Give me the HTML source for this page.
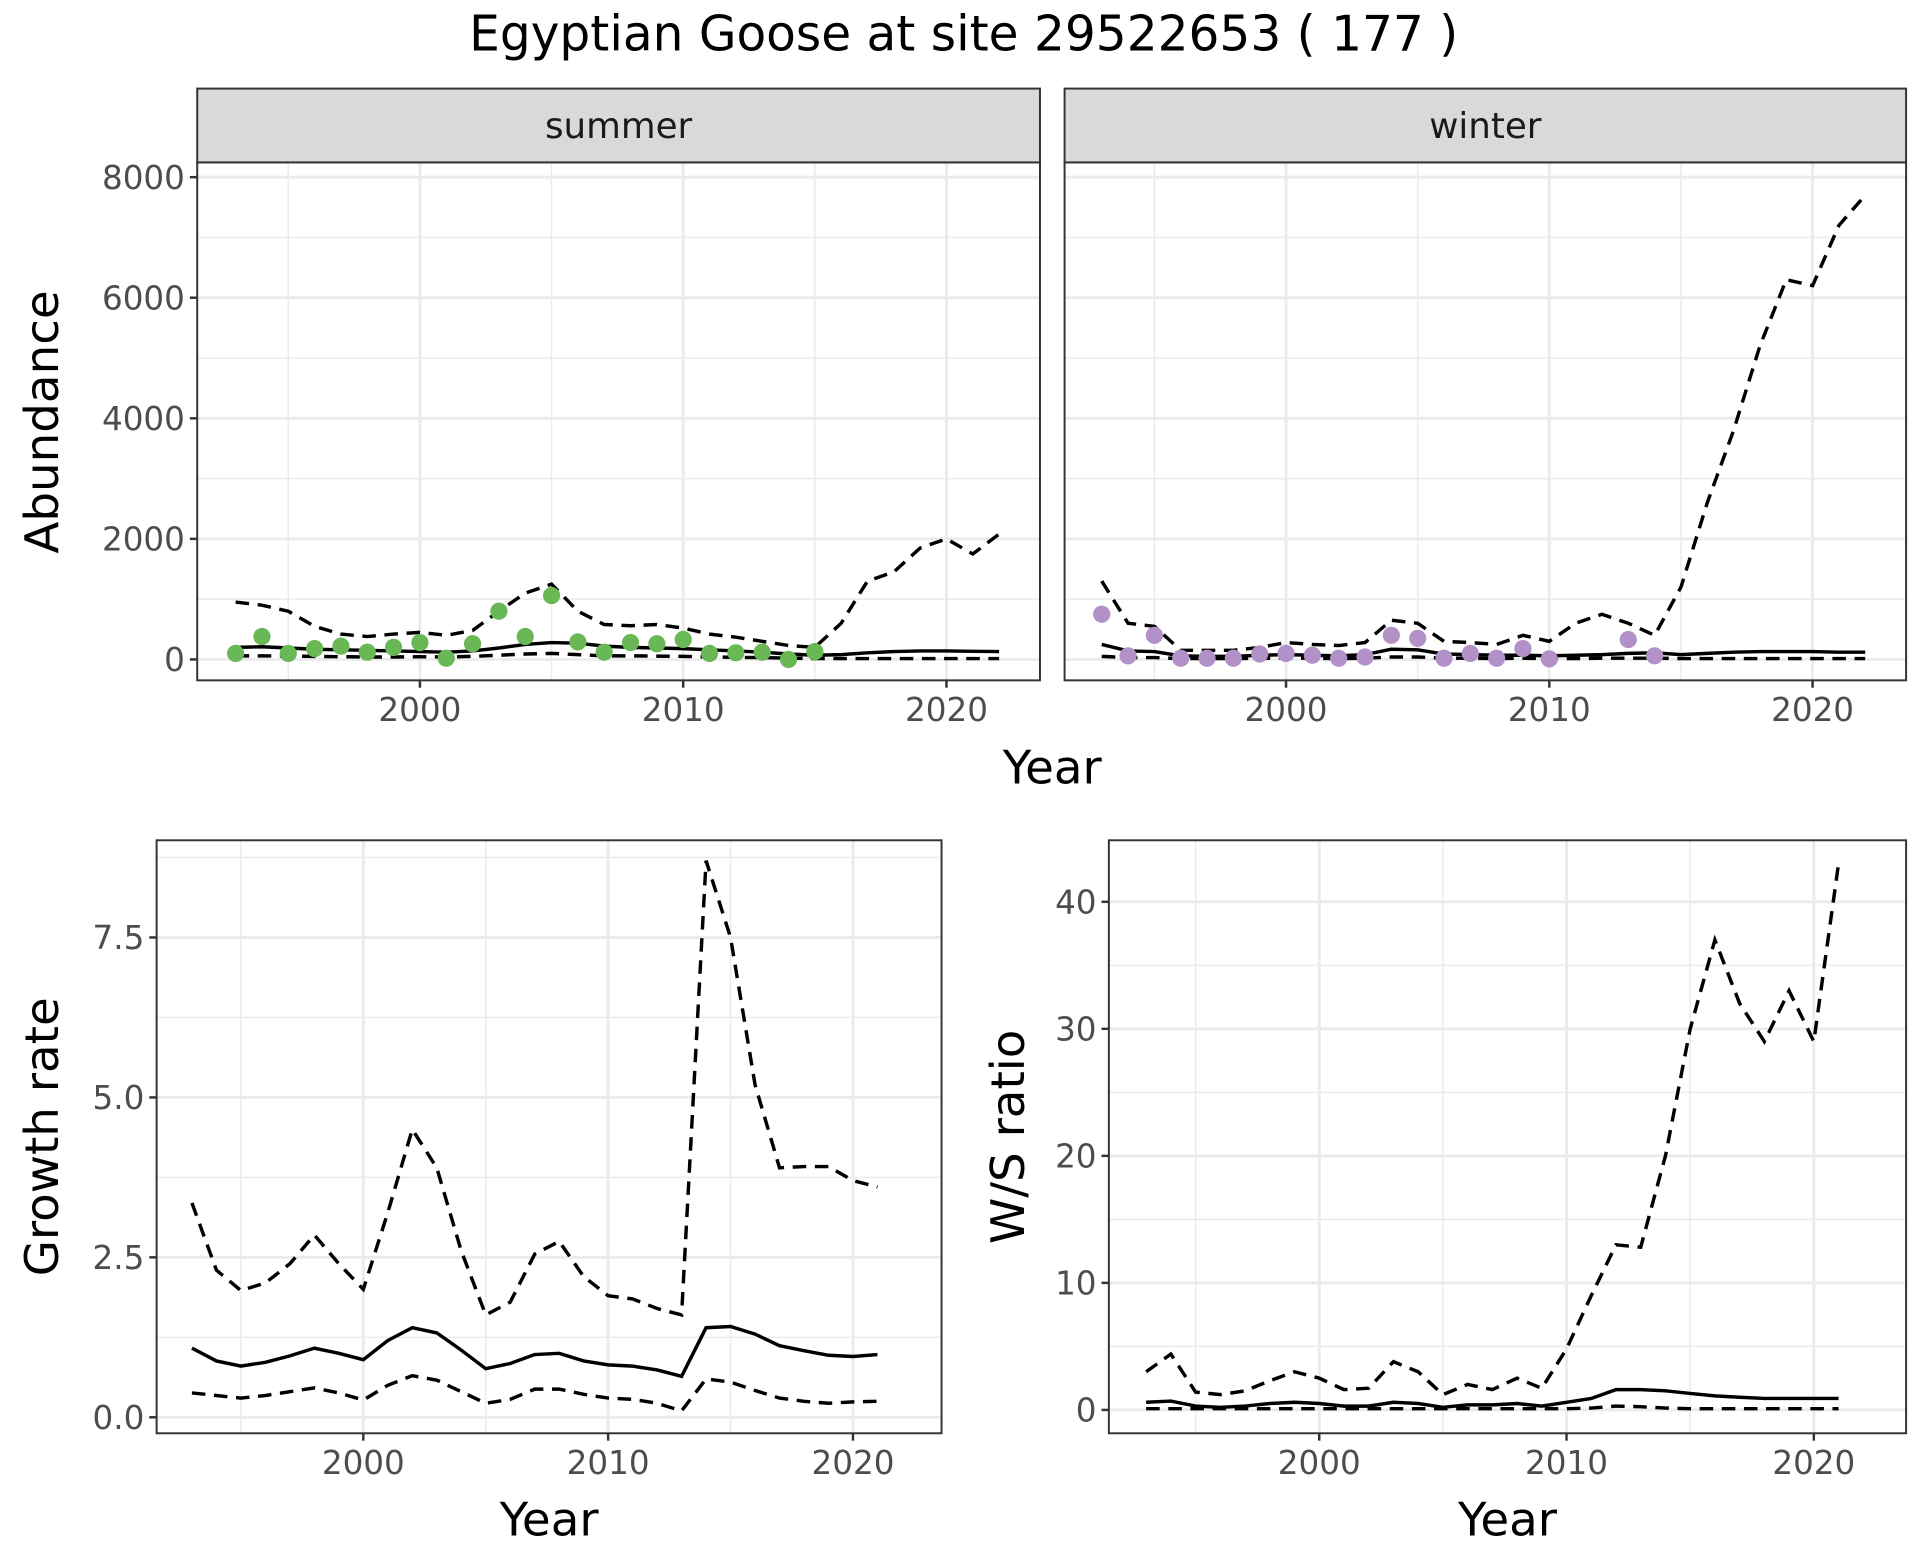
<!DOCTYPE html>
<html><head><meta charset="utf-8"><style>
html,body{margin:0;padding:0;background:#fff;}
svg{display:block;font-family:"DejaVu Sans","Liberation Sans",sans-serif;}
</style></head><body>
<svg id="chart" width="1920" height="1560" viewBox="0 0 1560 1268" xmlns="http://www.w3.org/2000/svg">
<rect width="1560" height="1268" fill="#fff"/>
<text x="783" y="41" font-size="39.5" text-anchor="middle" fill="#000">Egyptian Goose at site 29522653 ( 177 )</text>
<g id="g"></g>
</svg>
<script>
const yearsAb = Array.from({length:30},(_,i)=>1993+i);
const summerPtsYears = [1993,1994,1995,1996,1997,1998,1999,2000,2001,2002,2003,2004,2005,2006,2007,2008,2009,2010,2011,2012,2013,2014,2015];
const summerPts = [100,380,100,180,220,120,200,280,20,260,800,380,1060,290,120,280,260,330,100,110,120,0,130];
const summerMean = [200,210,190,170,160,150,140,130,120,140,190,250,280,270,220,200,190,180,160,140,120,90,70,80,110,130,140,140,135,130];
const summerUpper = [950,900,800,550,420,380,420,450,400,480,800,1100,1250,800,580,560,580,520,420,370,300,230,200,600,1300,1450,1850,2000,1750,2080];
const summerLower = [60,60,55,50,45,40,40,45,40,50,70,90,100,80,60,60,55,50,40,35,30,20,15,15,15,15,15,15,15,15];
const winterPtsYears = [1993,1994,1995,1996,1997,1998,1999,2000,2001,2002,2003,2004,2005,2006,2007,2008,2009,2010,2013,2014];
const winterPts = [750,60,400,20,20,20,90,100,70,20,40,400,350,20,100,20,180,10,330,60];
const winterMean = [250,140,130,60,50,50,70,80,70,60,80,170,160,90,80,70,70,60,70,80,100,110,80,100,120,130,130,130,120,120];
const winterUpper = [1300,600,550,150,150,150,200,280,250,230,280,650,600,300,280,250,400,300,600,750,600,400,1200,2600,3800,5200,6300,6200,7200,7700];
const winterLower = [50,30,30,15,15,15,20,25,20,15,20,40,40,20,20,15,20,15,15,20,20,20,15,15,15,15,15,15,15,15];
const yearsGr = Array.from({length:29},(_,i)=>1993+i);
const growthMean = [1.08,0.88,0.8,0.86,0.96,1.08,1.0,0.9,1.2,1.4,1.32,1.05,0.76,0.84,0.98,1.0,0.88,0.82,0.8,0.74,0.64,1.4,1.42,1.3,1.12,1.04,0.97,0.95,0.98];
const growthUpper = [3.35,2.3,1.98,2.1,2.4,2.85,2.4,2.0,3.2,4.5,3.9,2.6,1.6,1.8,2.55,2.75,2.2,1.9,1.85,1.7,1.6,8.7,7.5,5.2,3.9,3.92,3.92,3.7,3.6];
const growthLower = [0.38,0.34,0.3,0.34,0.4,0.46,0.38,0.27,0.5,0.65,0.58,0.4,0.22,0.28,0.44,0.44,0.36,0.3,0.28,0.22,0.1,0.6,0.55,0.42,0.3,0.25,0.22,0.24,0.25];
const ratioMean = [0.6,0.7,0.3,0.2,0.3,0.5,0.6,0.5,0.3,0.3,0.6,0.5,0.2,0.4,0.4,0.5,0.3,0.6,0.9,1.6,1.6,1.5,1.3,1.1,1.0,0.9,0.9,0.9,0.9];
const ratioUpper = [3.0,4.4,1.4,1.2,1.5,2.3,3.0,2.5,1.6,1.7,3.8,3.0,1.2,2.0,1.6,2.5,1.7,4.8,9.0,13.0,12.8,20,30,37,32,29,33,29,43];
const ratioLower = [0.1,0.1,0.1,0.1,0.1,0.1,0.1,0.1,0.1,0.1,0.1,0.1,0.1,0.1,0.1,0.1,0.1,0.1,0.15,0.3,0.25,0.15,0.1,0.1,0.1,0.1,0.1,0.1,0.1];
const xTicks = [2000,2010,2020];
const abTicks = [0,2000,4000,6000,8000];
const grTicks = [0,2.5,5,7.5];
const grTickLabels = ["0.0","2.5","5.0","7.5"];
const raTicks = [0,10,20,30,40];

const NS="http://www.w3.org/2000/svg";
const G=document.getElementById('g');
function el(t,a,p){const e=document.createElementNS(NS,t);for(const k in a)e.setAttribute(k,a[k]);(p||G).appendChild(e);return e;}
function lin(d0,d1,r0,r1){return v=>r0+(v-d0)*(r1-r0)/(d1-d0);}
const TF=26.5, AF=38;

function panel(name,box,sx,sy,yt,ytl,minorY,showY,showX,minorX){
  el('rect',{x:box.x0,y:box.y0,width:box.x1-box.x0,height:box.y1-box.y0,fill:'#fff'});
  minorX.forEach(v=>{const l=el('line',{x1:sx(v),x2:sx(v),y1:box.y0,y2:box.y1,stroke:'#ebebeb','stroke-width':1.2});});
  minorY.forEach(v=>{const l=el('line',{x1:box.x0,x2:box.x1,y1:sy(v),y2:sy(v),stroke:'#ebebeb','stroke-width':1.2});});
  xTicks.forEach(v=>{const l=el('line',{x1:sx(v),x2:sx(v),y1:box.y0,y2:box.y1,stroke:'#ebebeb','stroke-width':2.4});});
  yt.forEach(v=>{const l=el('line',{x1:box.x0,x2:box.x1,y1:sy(v),y2:sy(v),stroke:'#ebebeb','stroke-width':2.4});});
  xTicks.forEach(v=>{el('line',{x1:sx(v),x2:sx(v),y1:box.y1,y2:box.y1+6,stroke:'#333','stroke-width':2});
    if(showX){const t=el('text',{x:sx(v),y:box.y1+33,'font-size':TF,'text-anchor':'middle',fill:'#4d4d4d'});t.textContent=v;}});
  yt.forEach((v,i)=>{if(showY){el('line',{x1:box.x0-6,x2:box.x0,y1:sy(v),y2:sy(v),stroke:'#333','stroke-width':2});
    const t=el('text',{x:box.x0-10,y:sy(v)+9.5,'font-size':TF,'text-anchor':'end',fill:'#4d4d4d'});t.textContent=ytl[i];}});
}
function line(name,xs,ys,sx,sy,dash){
  const d=xs.map((x,i)=>(i?'L':'M')+sx(x).toFixed(1)+','+sy(ys[i]).toFixed(1)).join('');
  const p=el('path',{d:d,fill:'none',stroke:'#000','stroke-width':2.8,'stroke-dasharray':dash?'11,7':'none'});
  
}
function border(box){el('rect',{x:box.x0,y:box.y0,width:box.x1-box.x0,height:box.y1-box.y0,fill:'none',stroke:'#333','stroke-width':1.6});}
function points(name,xs,ys,sx,sy,col){xs.forEach((x,i)=>{const c=el('circle',{cx:sx(x),cy:sy(ys[i]),r:7,fill:col});});}

const abY=lin(0,8000,536,144);
const abMinor=[1000,3000,5000,7000];
const tl={x0:160,x1:845,y0:132,y1:553}, tr={x0:865,x1:1549,y0:132,y1:553};
const sxL=lin(2000,2010,341,555), sxR=lin(2000,2010,1045,1259);
[[tl,sxL,'summer',summerPtsYears,summerPts,summerMean,summerUpper,summerLower,'#6ab756',true],
 [tr,sxR,'winter',winterPtsYears,winterPts,winterMean,winterUpper,winterLower,'#b291c8',false]].forEach(a=>{
  const [box,sx,nm,py,pv,m,u,lo,col,sy]=a;
  panel(nm+'-panel',box,sx,abY,abTicks,abTicks,abMinor,sy,true,[1995,2005,2015]);
  line(nm+'-mean-line',yearsAb,m,sx,abY,false);
  line(nm+'-upper-ci-line',yearsAb,u,sx,abY,true);
  line(nm+'-lower-ci-line',yearsAb,lo,sx,abY,true);
  points(nm+'-count-point',py,pv,sx,abY,col);
  border(box);
  const s=el('rect',{x:box.x0,y:72,width:box.x1-box.x0,height:60,fill:'#d9d9d9',stroke:'#333','stroke-width':1.6});
  
  const t=el('text',{x:(box.x0+box.x1)/2,y:112,'font-size':29,'text-anchor':'middle',fill:'#1a1a1a'});t.textContent=nm;
  
});
let t;
t=el('text',{x:855,y:637,'font-size':AF,'text-anchor':'middle'});t.textContent='Year';
t=el('text',{x:0,y:0,'font-size':AF,'text-anchor':'middle',transform:'translate(47,343) rotate(-90)'});t.textContent='Abundance';

const bl={x0:127,x1:765,y0:683,y1:1165};
const sxG=lin(2000,2010,295,494), syG=lin(0,7.5,1152,762);
panel('growth-panel',bl,sxG,syG,grTicks,grTickLabels,[1.25,3.75,6.25,8.75].filter(v=>syG(v)>bl.y0),true,true,[1995,2005,2015]);
line('growth-mean-line',yearsGr,growthMean,sxG,syG,false);
line('growth-upper-ci-line',yearsGr,growthUpper,sxG,syG,true);
line('growth-lower-ci-line',yearsGr,growthLower,sxG,syG,true);
border(bl);
t=el('text',{x:446,y:1248,'font-size':AF,'text-anchor':'middle'});t.textContent='Year';
t=el('text',{x:0,y:0,'font-size':AF,'text-anchor':'middle',transform:'translate(47,924) rotate(-90)'});t.textContent='Growth rate';

const br={x0:901,x1:1549,y0:683,y1:1165};
const sxR2=lin(2000,2010,1072,1273), syR=lin(0,40,1146,733);
panel('ratio-panel',br,sxR2,syR,raTicks,raTicks,[5,15,25,35],true,true,[1995,2005,2015]);
line('ratio-mean-line',yearsGr,ratioMean,sxR2,syR,false);
line('ratio-upper-ci-line',yearsGr,ratioUpper,sxR2,syR,true);
line('ratio-lower-ci-line',yearsGr,ratioLower,sxR2,syR,true);
border(br);
t=el('text',{x:1225,y:1248,'font-size':AF,'text-anchor':'middle'});t.textContent='Year';
t=el('text',{x:0,y:0,'font-size':AF,'text-anchor':'middle',transform:'translate(832,924) rotate(-90)'});t.textContent='W/S ratio';
</script>
</body></html>
